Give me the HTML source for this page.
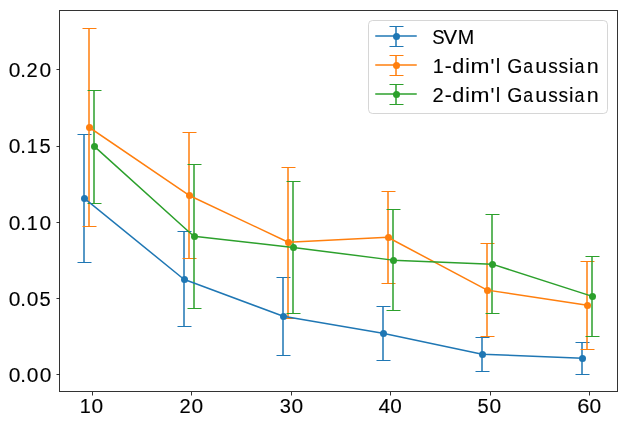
<!DOCTYPE html>
<html lang="en">
<head>
<meta charset="utf-8">
<title>Error rate vs. sample size</title>
<style>
html,body{margin:0;padding:0;background:#fff;}
body{width:627px;height:424px;overflow:hidden;font-family:"Liberation Sans",sans-serif;}
svg{display:block;}
</style>
</head>
<body>
<svg width="627" height="424" viewBox="0 0 627 424" role="img" aria-label="Error bar chart: SVM, 1-dim Gaussian and 2-dim Gaussian versus sample size">
<defs><mask id="gray" maskUnits="userSpaceOnUse" x="0" y="0" width="627" height="424"><rect width="627" height="424" fill="#fff"/></mask></defs>
<rect width="627" height="424" fill="#fff"/>
<g stroke="#1f77b4" fill="none">
<path d="M84 134.3V262.7M184 231.3V326.7M283 277.3V355.7M383 306.3V360.7M482 337.3V371.7M582 342.3V374.7" stroke-width="1.5"/>
<path d="M77.5 134.5H91.5M77.5 262.5H91.5M177.5 231.5H191.5M177.5 326.5H191.5M276.5 277.5H290.5M276.5 355.5H290.5M376.5 306.5H390.5M376.5 360.5H390.5M475.5 337.5H489.5M475.5 371.5H489.5M575.5 342.5H589.5M575.5 374.5H589.5" stroke-width="1"/>
</g>
<g stroke="#ff7f0e" fill="none">
<path d="M89 28.3V226.7M189 132.3V258.7M288 167.3V318.7M388 191.3V283.7M487 243.3V336.7M587 261.3V349.7" stroke-width="1.5"/>
<path d="M82.5 28.5H96.5M82.5 226.5H96.5M182.5 132.5H196.5M182.5 258.5H196.5M281.5 167.5H295.5M281.5 318.5H295.5M381.5 191.5H395.5M381.5 283.5H395.5M480.5 243.5H494.5M480.5 336.5H494.5M580.5 261.5H594.5M580.5 349.5H594.5" stroke-width="1"/>
</g>
<g stroke="#2ca02c" fill="none">
<path d="M94 90.3V203.7M194 164.3V308.7M293 181.3V313.7M393 209.3V310.7M492 214.3V313.7M592 256.3V336.7" stroke-width="1.5"/>
<path d="M87.5 90.5H101.5M87.5 203.5H101.5M187.5 164.5H201.5M187.5 308.5H201.5M286.5 181.5H300.5M286.5 313.5H300.5M386.5 209.5H400.5M386.5 310.5H400.5M485.5 214.5H499.5M485.5 313.5H499.5M585.5 256.5H599.5M585.5 336.5H599.5" stroke-width="1"/>
</g>
<polyline points="84.365,198.33 183.83,279.23 283.295,316.23 382.761,333.33 482.226,354.23 581.691,358.23" fill="none" stroke="#1f77b4" stroke-width="1.5" stroke-linecap="square" stroke-linejoin="round"/>
<g fill="#1f77b4">
<circle cx="84.5" cy="198.5" r="3.5"/>
<circle cx="184.5" cy="279.5" r="3.5"/>
<circle cx="283.5" cy="316.5" r="3.5"/>
<circle cx="383.5" cy="333.5" r="3.5"/>
<circle cx="482.5" cy="354.5" r="3.5"/>
<circle cx="582.5" cy="358.5" r="3.5"/>
</g>
<polyline points="89.338,127.43 188.803,195.23 288.268,242.23 387.734,237.23 487.199,290.13 586.664,305.13" fill="none" stroke="#ff7f0e" stroke-width="1.5" stroke-linecap="square" stroke-linejoin="round"/>
<g fill="#ff7f0e">
<circle cx="89.5" cy="127.5" r="3.5"/>
<circle cx="189.5" cy="195.5" r="3.5"/>
<circle cx="288.5" cy="242.5" r="3.5"/>
<circle cx="388.5" cy="237.5" r="3.5"/>
<circle cx="487.5" cy="290.5" r="3.5"/>
<circle cx="587.5" cy="305.5" r="3.5"/>
</g>
<polyline points="94.311,146.33 193.776,236.23 293.241,247.43 392.707,260.13 492.172,264.13 591.637,296.13" fill="none" stroke="#2ca02c" stroke-width="1.5" stroke-linecap="square" stroke-linejoin="round"/>
<g fill="#2ca02c">
<circle cx="94.5" cy="146.5" r="3.5"/>
<circle cx="194.5" cy="236.5" r="3.5"/>
<circle cx="293.5" cy="247.5" r="3.5"/>
<circle cx="393.5" cy="260.5" r="3.5"/>
<circle cx="492.5" cy="264.5" r="3.5"/>
<circle cx="592.5" cy="296.5" r="3.5"/>
</g>
<g fill="#000" fill-opacity="0.8">
<rect x="92" y="392" width="1" height="3.5"/>
<rect x="191" y="392" width="1" height="3.5"/>
<rect x="291" y="392" width="1" height="3.5"/>
<rect x="390" y="392" width="1" height="3.5"/>
<rect x="490" y="392" width="1" height="3.5"/>
<rect x="589" y="392" width="1" height="3.5"/>
<rect x="56.5" y="374" width="3" height="1"/>
<rect x="56.5" y="298" width="3" height="1"/>
<rect x="56.5" y="222" width="3" height="1"/>
<rect x="56.5" y="146" width="3" height="1"/>
<rect x="56.5" y="69" width="3" height="1"/>
</g>
<rect x="59.5" y="10.5" width="558" height="381" fill="none" stroke="#000" stroke-opacity="0.8" stroke-width="1"/>
<rect x="368.5" y="20.5" width="239" height="93" rx="4" ry="4" fill="#fff" fill-opacity="0.8" stroke="#ccc" stroke-opacity="0.8" stroke-width="1"/>
<g stroke="#1f77b4" fill="none">
<path d="M396 26.3V46.7" stroke-width="1.5"/>
<path d="M389.5 26.5H403.5M389.5 46.5H403.5" stroke-width="1"/>
<path d="M375.25 36H416.75" stroke-width="1.5"/>
</g>
<circle cx="396.5" cy="36.5" r="3.5" fill="#1f77b4"/>
<g stroke="#ff7f0e" fill="none">
<path d="M396 55.3V75.7" stroke-width="1.5"/>
<path d="M389.5 55.5H403.5M389.5 75.5H403.5" stroke-width="1"/>
<path d="M375.25 65H416.75" stroke-width="1.5"/>
</g>
<circle cx="396.5" cy="65.5" r="3.5" fill="#ff7f0e"/>
<g stroke="#2ca02c" fill="none">
<path d="M396 84.3V104.7" stroke-width="1.5"/>
<path d="M389.5 84.5H403.5M389.5 104.5H403.5" stroke-width="1"/>
<path d="M375.25 94H416.75" stroke-width="1.5"/>
</g>
<circle cx="396.5" cy="94.5" r="3.5" fill="#2ca02c"/>
<g mask="url(#gray)" font-family="'Liberation Sans', sans-serif" font-size="20.35" fill="#000" stroke="#000" stroke-width="0.12">
<text y="77"><tspan x="8.66" textLength="11.67" lengthAdjust="spacingAndGlyphs">0</tspan><tspan x="20.22">.</tspan><tspan x="26.61" textLength="11.20" lengthAdjust="spacingAndGlyphs">2</tspan><tspan x="39.54" textLength="11.67" lengthAdjust="spacingAndGlyphs">0</tspan></text>
<text y="153"><tspan x="8.66" textLength="11.67" lengthAdjust="spacingAndGlyphs">0</tspan><tspan x="20.22">.</tspan><tspan x="26.85" textLength="11.03" lengthAdjust="spacingAndGlyphs">1</tspan><tspan x="39.49" textLength="11.20" lengthAdjust="spacingAndGlyphs">5</tspan></text>
<text y="230"><tspan x="8.66" textLength="11.67" lengthAdjust="spacingAndGlyphs">0</tspan><tspan x="20.22">.</tspan><tspan x="26.85" textLength="11.03" lengthAdjust="spacingAndGlyphs">1</tspan><tspan x="39.54" textLength="11.67" lengthAdjust="spacingAndGlyphs">0</tspan></text>
<text y="306"><tspan x="8.66" textLength="11.67" lengthAdjust="spacingAndGlyphs">0</tspan><tspan x="20.22">.</tspan><tspan x="26.79" textLength="11.67" lengthAdjust="spacingAndGlyphs">0</tspan><tspan x="39.62" textLength="11.20" lengthAdjust="spacingAndGlyphs">5</tspan></text>
<text y="382"><tspan x="8.66" textLength="11.67" lengthAdjust="spacingAndGlyphs">0</tspan><tspan x="20.22">.</tspan><tspan x="26.79" textLength="11.67" lengthAdjust="spacingAndGlyphs">0</tspan><tspan x="39.66" textLength="11.67" lengthAdjust="spacingAndGlyphs">0</tspan></text>
<text y="413"><tspan x="79.72" textLength="11.04" lengthAdjust="spacingAndGlyphs">1</tspan><tspan x="91.41" textLength="11.67" lengthAdjust="spacingAndGlyphs">0</tspan></text>
<text y="413"><tspan x="179.49" textLength="11.20" lengthAdjust="spacingAndGlyphs">2</tspan><tspan x="191.41" textLength="11.67" lengthAdjust="spacingAndGlyphs">0</tspan></text>
<text y="413"><tspan x="279.73" textLength="11.17" lengthAdjust="spacingAndGlyphs">3</tspan><tspan x="291.41" textLength="11.67" lengthAdjust="spacingAndGlyphs">0</tspan></text>
<text y="413"><tspan x="378.58" textLength="11.60" lengthAdjust="spacingAndGlyphs">4</tspan><tspan x="390.29" textLength="11.55" lengthAdjust="spacingAndGlyphs">0</tspan></text>
<text y="413"><tspan x="477.62" textLength="11.20" lengthAdjust="spacingAndGlyphs">5</tspan><tspan x="489.41" textLength="11.67" lengthAdjust="spacingAndGlyphs">0</tspan></text>
<text y="413"><tspan x="577.23" textLength="12.19" lengthAdjust="spacingAndGlyphs">6</tspan><tspan x="589.41" textLength="11.67" lengthAdjust="spacingAndGlyphs">0</tspan></text>
<text y="44"><tspan x="432.17" textLength="12.37" lengthAdjust="spacingAndGlyphs">S</tspan><tspan x="443.36" textLength="13.85" lengthAdjust="spacingAndGlyphs">V</tspan><tspan x="457.86" textLength="16.48" lengthAdjust="spacingAndGlyphs">M</tspan></text>
<text y="73"><tspan x="432.72" textLength="11.04" lengthAdjust="spacingAndGlyphs">1</tspan><tspan x="444.86" textLength="7.03" lengthAdjust="spacingAndGlyphs">-</tspan><tspan x="452.29" textLength="12.04" lengthAdjust="spacingAndGlyphs">d</tspan><tspan x="465.21">i</tspan><tspan x="470.61" textLength="18.99" lengthAdjust="spacingAndGlyphs">m</tspan><tspan x="490.61">&#39;</tspan><tspan x="495.70">l</tspan> <tspan x="507.29" textLength="15.13" lengthAdjust="spacingAndGlyphs">G</tspan><tspan x="523.32" textLength="9.86" lengthAdjust="spacingAndGlyphs">a</tspan><tspan x="535.34" textLength="12.01" lengthAdjust="spacingAndGlyphs">u</tspan><tspan x="548.17" textLength="9.53" lengthAdjust="spacingAndGlyphs">s</tspan><tspan x="558.54" textLength="9.62" lengthAdjust="spacingAndGlyphs">s</tspan><tspan x="568.95">i</tspan><tspan x="574.60" textLength="9.96" lengthAdjust="spacingAndGlyphs">a</tspan><tspan x="586.81" textLength="11.96" lengthAdjust="spacingAndGlyphs">n</tspan></text>
<text y="102"><tspan x="432.49" textLength="11.20" lengthAdjust="spacingAndGlyphs">2</tspan><tspan x="444.86" textLength="7.03" lengthAdjust="spacingAndGlyphs">-</tspan><tspan x="452.29" textLength="12.04" lengthAdjust="spacingAndGlyphs">d</tspan><tspan x="465.21">i</tspan><tspan x="470.61" textLength="18.99" lengthAdjust="spacingAndGlyphs">m</tspan><tspan x="490.61">&#39;</tspan><tspan x="495.70">l</tspan> <tspan x="507.29" textLength="15.13" lengthAdjust="spacingAndGlyphs">G</tspan><tspan x="523.32" textLength="9.86" lengthAdjust="spacingAndGlyphs">a</tspan><tspan x="535.34" textLength="12.01" lengthAdjust="spacingAndGlyphs">u</tspan><tspan x="548.17" textLength="9.53" lengthAdjust="spacingAndGlyphs">s</tspan><tspan x="558.54" textLength="9.62" lengthAdjust="spacingAndGlyphs">s</tspan><tspan x="568.95">i</tspan><tspan x="574.60" textLength="9.96" lengthAdjust="spacingAndGlyphs">a</tspan><tspan x="586.81" textLength="11.96" lengthAdjust="spacingAndGlyphs">n</tspan></text>
</g>
</svg>
</body>
</html>
